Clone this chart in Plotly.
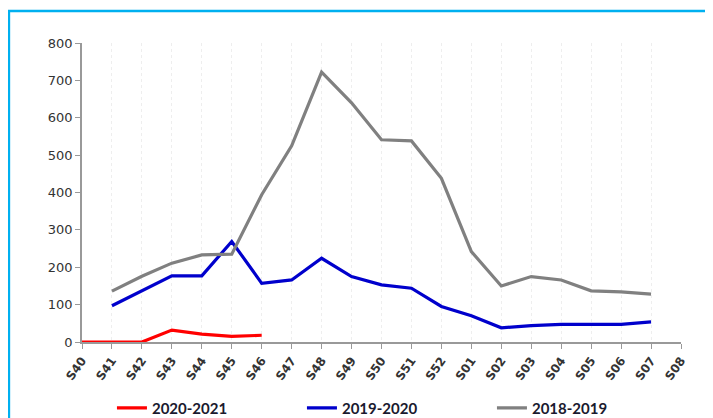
import plotly.graph_objects as go

weeks = ["S40", "S41", "S42", "S43", "S44", "S45", "S46", "S47", "S48", "S49", "S50",
         "S51", "S52", "S01", "S02", "S03", "S04", "S05", "S06", "S07", "S08"]

s2020_2021 = [0, 0, 0, 32, 21, 15, 18]
s2019_2020 = [None, 97, 137, 177, 177, 269, 157, 166, 224, 175, 153,
              144, 95, 70, 38, 44, 47, 47, 47, 54]
s2018_2019 = [None, 136, 176, 211, 233, 235, 394, 525, 722, 640, 541,
              538, 438, 242, 150, 175, 166, 137, 134, 128]

fig = go.Figure()
fig.add_trace(go.Scatter(x=weeks[:len(s2020_2021)], y=s2020_2021, mode="lines", name="2020-2021",
                         line=dict(color="#FF0000", width=3.2)))
fig.add_trace(go.Scatter(x=weeks[:len(s2019_2020)], y=s2019_2020, mode="lines", name="2019-2020",
                         line=dict(color="#0000CC", width=3.2)))
fig.add_trace(go.Scatter(x=weeks[:len(s2018_2019)], y=s2018_2019, mode="lines", name="2018-2019",
                         line=dict(color="#808080", width=3.2)))

# page has an 8px body margin, so the margins are shifted by that
fig.update_layout(
    width=713, height=418,
    margin=dict(l=74, r=40, t=35, b=84, autoexpand=False),
    plot_bgcolor="white", paper_bgcolor="white",
    font=dict(family="DejaVu Sans", color="#404040"),
    showlegend=True,
    legend=dict(orientation="h", x=0.05, xanchor="left", y=-0.221, yanchor="middle",
                entrywidth=145, entrywidthmode="pixels",
                font=dict(family="Lato", size=15, color="#1A1A2E", weight="bold")),
    shapes=[dict(type="rect", xref="paper", yref="paper",
                 x0=-0.122, y0=-0.6, x1=1.3, y1=1.107,
                 line=dict(color="#00B0F0", width=2.5), layer="below")],
)
fig.update_xaxes(type="category", categoryorder="array", categoryarray=weeks,
                 range=[0, 20], tickangle=-55, ticks="outside", ticklen=5,
                 tickcolor="#999999", showline=True, linecolor="#999999", linewidth=1.5,
                 showgrid=True, gridcolor="#EEEEEE", griddash="dot", gridwidth=1,
                 automargin=False,
                 tickfont=dict(size=12, color="#333333", weight="bold"))
fig.update_yaxes(range=[0, 800], dtick=100, ticks="outside", ticklen=5,
                 tickcolor="#999999", showline=True, linecolor="#999999", linewidth=1.5,
                 showgrid=False, zeroline=False, automargin=False,
                 tickfont=dict(size=13, color="#333333"))

fig.write_html("out.html")
